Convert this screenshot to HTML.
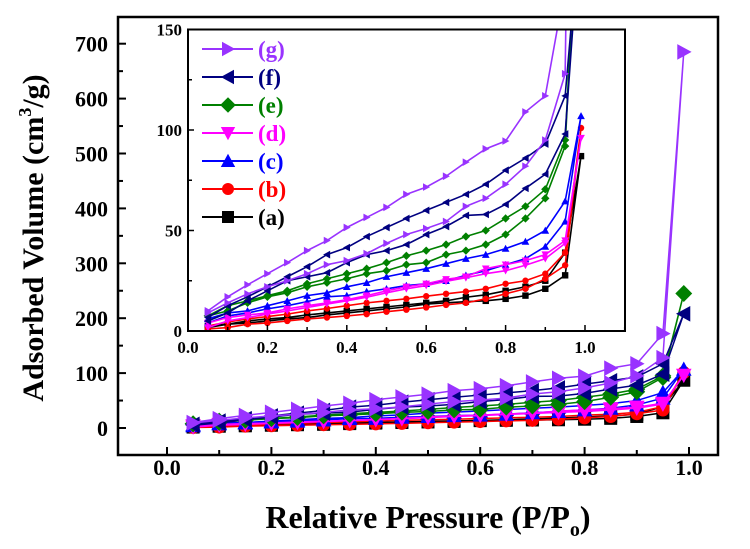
<!DOCTYPE html>
<html><head><meta charset="utf-8"><style>
html,body{margin:0;padding:0;background:#fff;}
svg, svg text{font-family:"Liberation Serif","Times New Roman","Noto Serif CJK SC","DejaVu Serif",serif !important;font-weight:bold;}
</style></head><body>
<svg id="chart" width="750" height="544" viewBox="0 0 750 544" xmlns="http://www.w3.org/2000/svg"></svg>
<script>
const seriesNames = ["(a)","(b)","(c)","(d)","(e)","(f)","(g)"];
const seriesColors = ["#000000","#ff0000","#0000ff","#ff00ff","#008000","#000080","#9933ff"];
const seriesMarkers = ["square","circle","up","down","diamond","left","right"];
const adsP = [0.05,0.1,0.15,0.2,0.25,0.3,0.35,0.4,0.45,0.5,0.55,0.6,0.65,0.7,0.75,0.8,0.85,0.9,0.95,0.99];
const desP = [0.05,0.1,0.15,0.2,0.25,0.3,0.35,0.4,0.45,0.5,0.55,0.6,0.65,0.7,0.75,0.8,0.85,0.9,0.95];
const adsA = [1.7,3.4,4,5,6,6.7,8,9,10,11,12,13.4,14,14.6,15,16,17.6,21,27.7,87];
const desA = [2.5,3.4,5,6,6.7,8,9,10,11,12,13,14,15,16.8,18,20,22,25,39];
const adsB = [1,1.7,3.4,4,5,6,6.7,7.5,8.4,9.6,10.6,11.7,13,14,16,18.5,21,26,32.7,101];
const desB = [2.5,4.5,6,7.2,8.4,10,11.2,12.6,14,15,16,17.3,18.5,19.6,21,23.5,25,28.5,39];
const adsC = [4,7.5,9,11,12.6,14.6,17,17.6,19.6,21,22.6,23.5,25,27.7,30,33,36,42,54.5,107];
const desC = [6,9,10,12.6,15,17.6,19,22,24,27,29,31,33.5,36,38,41,44.5,50,64.6];
const adsD = [1.7,5,6.7,8.4,10,11.7,13.4,15,16.8,19,21,22.6,24.7,26.5,28.5,30,32.7,36,43.6,96];
const desD = [4,6.7,8,9,11,12.6,14,15.6,17.6,20,22,23.5,25.7,27,31,33,35,38,45];
const adsE = [7.5,10,14,17,19,22,24,26,28.5,30,33,34,38,40,43,48,56,66,92,245];
const desE = [7.5,12.6,15,17.6,20,23.5,26,28.5,31,34,37.4,40,43,47,50,56,62,70.5,95];
const adsF = [5,9,15,20,25,27,29,34,38,40,43,48,52,57.5,58,63,71,78,98,208];
const desF = [6.7,12.6,17,22,27,32,38,41.5,47,51.5,56,60,64,68,73,80,86,93,117];
const adsG = [9,14,18.5,22,25,28.5,33,35,38.5,43.6,48,51,54.5,62,66,73,82,95,128,685];
const desG = [10,17,23,28.5,34,40,45,51.5,56.5,61.5,68,71.6,77,84,90.6,94.5,109,117,172];
const mainXTicks = ["0.0","0.2","0.4","0.6","0.8","1.0"];
const mainYTicks = ["0","100","200","300","400","500","600","700"];
const insetXTicks = ["0.0","0.2","0.4","0.6","0.8","1.0"];
const insetYTicks = ["0","50","100","150"];

const adsAll = [adsA,adsB,adsC,adsD,adsE,adsF,adsG];
const desAll = [desA,desB,desC,desD,desE,desF,desG];

const NS = "http://www.w3.org/2000/svg";
const svg = document.getElementById("chart");
function mk(tag, attrs, parent){const e=document.createElementNS(NS,tag);for(const k in attrs)e.setAttribute(k,attrs[k]);if(tag==="text"){e.style.fontFamily='"Liberation Serif","Times New Roman","Noto Serif CJK SC","DejaVu Serif",serif';e.style.fontWeight='bold';}(parent||svg).appendChild(e);return e;}

const M = {x0:167, x1:689, yb:428, per100:54.9, left:118, top:17, right:718, bottom:455};
function mx(v){return M.x0+(M.x1-M.x0)*v;}
function my(v){return M.yb-v*M.per100/100;}
const I = {left:188, right:625, top:29.5, bottom:331};
function ix(v){return I.left+(585-I.left)*v;}
function iy(v){return I.bottom-(I.bottom-I.top)*v/150;}

function marker(g, type, x, y, s, color){
  let e;
  if(type==="square") e=mk("rect",{x:x-s,y:y-s,width:2*s,height:2*s,fill:color},g);
  else if(type==="circle") e=mk("circle",{cx:x,cy:y,r:s,fill:color},g);
  else {
    let p;
    if(type==="up") p=[[x,y-s*1.2],[x-s*1.2,y+s],[x+s*1.2,y+s]];
    else if(type==="down") p=[[x,y+s*1.2],[x-s*1.2,y-s],[x+s*1.2,y-s]];
    else if(type==="left") p=[[x-s*1.2,y],[x+s,y-s*1.2],[x+s,y+s*1.2]];
    else if(type==="right") p=[[x+s*1.2,y],[x-s,y-s*1.2],[x-s,y+s*1.2]];
    else p=[[x,y-s*1.3],[x+s*1.3,y],[x,y+s*1.3],[x-s*1.3,y]];
    e=mk("polygon",{points:p.map(q=>q.join(",")).join(" "),fill:color},g);
  }
  
  
}

function drawSeries(parent, fx, fy, s, lw, prefix){
  for(let i=0;i<seriesNames.length;i++){
    const g=mk("g",{},parent);
    
    
    const pts=[];
    adsP.forEach((p,j)=>pts.push([fx(p),fy(adsAll[i][j])]));
    for(let j=desP.length-1;j>=0;j--) pts.push([fx(desP[j]),fy(desAll[i][j])]);
    mk("polyline",{points:pts.map(q=>q.join(",")).join(" "),fill:"none",stroke:seriesColors[i],"stroke-width":lw},g);
    pts.forEach(q=>marker(g,seriesMarkers[i],q[0],q[1],s,seriesColors[i]));
  }
}

const frame=mk("rect",{x:M.left,y:M.top,width:M.right-M.left,height:M.bottom-M.top,fill:"none",stroke:"#000","stroke-width":2.5});


mainXTicks.forEach((t,k)=>{
  const v=k*0.2,x=mx(v);
  mk("line",{x1:x,y1:M.bottom,x2:x,y2:M.bottom-8,stroke:"#000","stroke-width":2});
  if(k<mainXTicks.length-1){const x2=mx(v+0.1);mk("line",{x1:x2,y1:M.bottom,x2:x2,y2:M.bottom-5,stroke:"#000","stroke-width":2});}
  const tx=mk("text",{x:x,y:475,"text-anchor":"middle","font-size":22},svg);tx.textContent=t;
  
});
mainYTicks.forEach((t,k)=>{
  const v=k*100,y=my(v);
  mk("line",{x1:M.left,y1:y,x2:M.left+8,y2:y,stroke:"#000","stroke-width":2});
  const y2=my(v+50); if(y2>M.top) mk("line",{x1:M.left,y1:y2,x2:M.left+5,y2:y2,stroke:"#000","stroke-width":2});
  const ty=mk("text",{x:108,y:y+8,"text-anchor":"end","font-size":22},svg);ty.textContent=t;
  
});
const xt=mk("text",{x:428,y:528,"text-anchor":"middle","font-size":32});

xt.innerHTML='Relative Pressure (P/P<tspan font-size="20" dy="8">o</tspan><tspan dy="-8">)</tspan>';
const yt=mk("text",{x:0,y:0,"text-anchor":"middle","font-size":30,transform:"translate(43,238) rotate(-90)"});

yt.innerHTML='Adsorbed Volume (cm<tspan font-size="18" dy="-12">3</tspan><tspan dy="12">/g)</tspan>';

const mainG=mk("g",{});

drawSeries(mainG,mx,my,6.5,1.5,'main');

const insetBg=mk("rect",{x:I.left,y:I.top,width:I.right-I.left,height:I.bottom-I.top,fill:"#fff",stroke:"none"});

const defs=mk("defs",{});const cp=mk("clipPath",{id:"ic"},defs);mk("rect",{x:I.left,y:I.top,width:I.right-I.left,height:I.bottom-I.top},cp);
const insetG=mk("g",{"clip-path":"url(#ic)"});

drawSeries(insetG,ix,iy,3.2,1.6,'inset');
const iframe=mk("rect",{x:I.left,y:I.top,width:I.right-I.left,height:I.bottom-I.top,fill:"none",stroke:"#000","stroke-width":2});

insetXTicks.forEach((t,k)=>{
  const v=k*0.2,x=ix(v);
  mk("line",{x1:x,y1:I.bottom,x2:x,y2:I.bottom-6,stroke:"#000","stroke-width":1.5});
  const x2=ix(v+0.1); if(x2<I.right) mk("line",{x1:x2,y1:I.bottom,x2:x2,y2:I.bottom-4,stroke:"#000","stroke-width":1.5});
  const tx=mk("text",{x:x,y:353,"text-anchor":"middle","font-size":17});tx.textContent=t;
  
});
insetYTicks.forEach((t,k)=>{
  const v=k*50,y=iy(v);
  mk("line",{x1:I.left,y1:y,x2:I.left+6,y2:y,stroke:"#000","stroke-width":1.5});
  if(v<150){const y2=iy(v+25);mk("line",{x1:I.left,y1:y2,x2:I.left+4,y2:y2,stroke:"#000","stroke-width":1.5});}
  const ty=mk("text",{x:182,y:y+6,"text-anchor":"end","font-size":17});ty.textContent=t;
  
});
const legG=mk("g",{});

for(let i=seriesNames.length-1;i>=0;i--){
  const row=6-i, y=49+row*28;
  const g=mk("g",{},legG);
  
  
  mk("line",{x1:202,y1:y,x2:253,y2:y,stroke:seriesColors[i],"stroke-width":2},g);
  marker(g,seriesMarkers[i],228,y,6,seriesColors[i]);
  const t=mk("text",{x:258,y:y+8,"font-size":23,fill:seriesColors[i]},g);t.textContent=seriesNames[i];
}
</script>
</body></html>
